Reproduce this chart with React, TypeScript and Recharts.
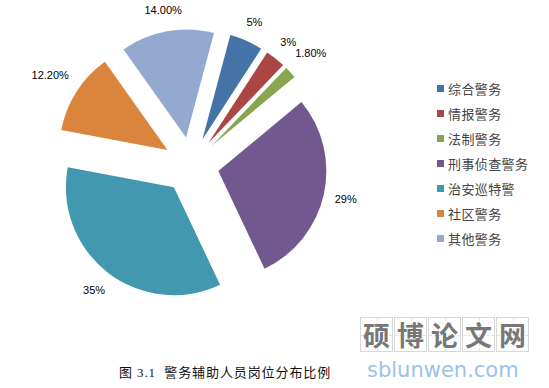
import React from 'react'
import { PieChart, Pie, Cell, Legend } from 'recharts'

document.body.style.margin = '0'

const CATEGORIES = ['综合警务', '情报警务', '法制警务', '刑事侦查警务', '治安巡特警', '社区警务', '其他警务']
const VALUES = [5, 3, 1.8, 29, 35, 12.2, 14]
const LABELS = ['5%', '3%', '1.80%', '29%', '35%', '12.20%', '14.00%']
const COLORS = ['#4572A7', '#AA4643', '#89A54E', '#71588F', '#4198AF', '#DB843D', '#93A9CF']

const W = 549
const H = 388
const CX = 191
const CY = 165
const R = 108
const EXPLODE = 28
const FIRST = 15 // degrees clockwise from 12 o'clock
const RAD = Math.PI / 180

const data = CATEGORIES.map((name, i) => ({ name, value: VALUES[i] }))
const total = VALUES.reduce((a, b) => a + b, 0)

// exploded centre of each slice
const centres = VALUES.map((v, i) => {
  const before = VALUES.slice(0, i).reduce((a, b) => a + b, 0)
  const mid = (FIRST + ((before + v / 2) / total) * 360) * RAD
  return { x: CX + EXPLODE * Math.sin(mid), y: CY - EXPLODE * Math.cos(mid) }
})

const renderLabel = (slice: number) => (p: any) => {
  if (p.index !== slice) return null
  const a = -p.midAngle * RAD
  const c = Math.cos(a)
  const s = Math.sin(a)
  const w = LABELS[slice].length * 6.3
  const r = p.outerRadius + 12 + (w / 2) * Math.abs(c) + 6 * Math.abs(s)
  return (
    <text x={p.cx + r * c} y={p.cy + r * s} textAnchor="middle" dominantBaseline="central"
      fill="#000" fontSize={11} fontFamily="'Liberation Sans', Arial, sans-serif">
      {LABELS[slice]}
    </text>
  )
}

const LegendBox = () => (
  <div style={{ fontFamily: "'Noto Sans CJK SC', sans-serif", fontSize: 13, color: '#444' }}>
    {CATEGORIES.map((name, i) => (
      <div key={name} style={{ height: 25, display: 'flex', alignItems: 'center' }}>
        <span style={{ width: 7, height: 7, background: COLORS[i], marginRight: 4, display: 'inline-block' }} />
        <span style={{ letterSpacing: 0.4 }}>{name}</span>
      </div>
    ))}
  </div>
)

export default function App() {
  return (
    <div style={{ position: 'relative', width: W, height: H, background: '#fff' }}>
      <PieChart width={W} height={H} margin={{ top: 0, right: 0, bottom: 0, left: 0 }}>
        {VALUES.map((_, i) => (
          <Pie key={i} data={data} dataKey="value" nameKey="name" cx={centres[i].x} cy={centres[i].y}
            outerRadius={R} innerRadius={0} startAngle={90 - FIRST} endAngle={90 - FIRST - 360}
            stroke="none" labelLine={false} label={renderLabel(i)} legendType="none"
            isAnimationActive={false}>
            {data.map((_, j) => (
              <Cell key={j} fill={j === i ? COLORS[j] : 'transparent'} />
            ))}
          </Pie>
        ))}
        <Legend content={<LegendBox />} wrapperStyle={{ position: 'absolute', left: 437, top: 76, width: 110 }} />
      </PieChart>

      <div style={{ position: 'absolute', left: 119, top: 362, fontSize: 13, color: '#111', letterSpacing: 0.9,
        fontFamily: "'Liberation Serif', 'Noto Sans CJK SC', serif", whiteSpace: 'nowrap' }}>
        图 3.1&nbsp;&nbsp;警务辅助人员岗位分布比例
      </div>

      <div style={{ position: 'absolute', left: 360, top: 317, display: 'flex', gap: 1 }}>
        {['硕', '博', '论', '文', '网'].map(ch => (
          <div key={ch} style={{ width: 33, height: 35, border: '1px solid #d8d8d8', position: 'relative',
            display: 'flex', alignItems: 'center', justifyContent: 'center', boxSizing: 'border-box',
            fontFamily: "'Noto Sans CJK SC', sans-serif", fontWeight: 700, fontSize: 27, color: '#777' }}>
            <div style={{ position: 'absolute', left: 16, top: 0, bottom: 0, borderLeft: '1px dashed #e4e4e4' }} />
            <div style={{ position: 'absolute', top: 17, left: 0, right: 0, borderTop: '1px dashed #e4e4e4' }} />
            <span style={{ position: 'relative' }}>{ch}</span>
          </div>
        ))}
      </div>
      <div style={{ position: 'absolute', left: 367, top: 358, fontSize: 21, color: '#9cc2ec',
        fontFamily: "'DejaVu Sans', sans-serif", whiteSpace: 'nowrap' }}>
        sblunwen.com
      </div>
    </div>
  )
}
